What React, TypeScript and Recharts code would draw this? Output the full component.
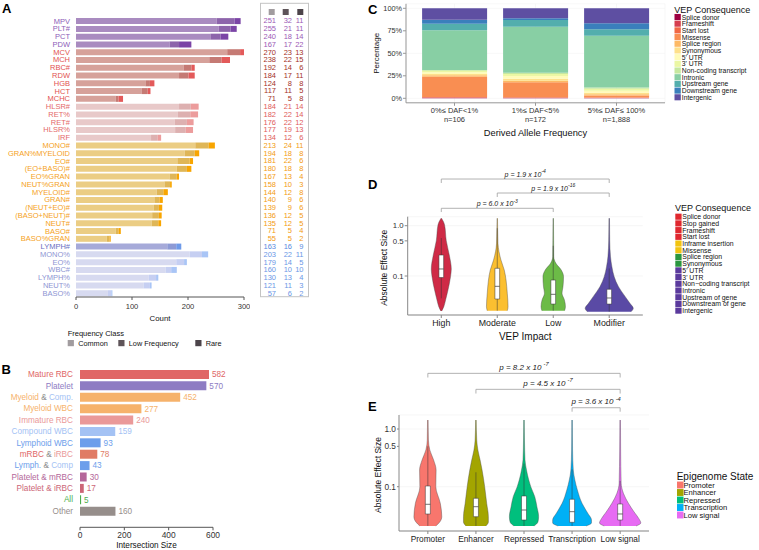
import React from 'react';
import {
  BarChart, Bar, XAxis, YAxis, Cell, LabelList, ComposedChart, Area,
  ReferenceLine, ReferenceArea, CartesianGrid,
} from 'recharts';

const FONT = '"Liberation Sans", Arial, Helvetica, sans-serif';

// ---------------- Panel A data ----------------
const traitNames = ['MPV', 'PLT#', 'PCT', 'PDW', 'MCV', 'MCH', 'RBC#', 'RDW', 'HGB', 'HCT', 'MCHC',
  'HLSR#', 'RET%', 'RET#', 'HLSR%', 'IRF', 'MONO#', 'GRAN%MYELOID', 'EO#', '(EO+BASO)#', 'EO%GRAN',
  'NEUT%GRAN', 'MYELOID#', 'GRAN#', '(NEUT+EO)#', '(BASO+NEUT)#', 'NEUT#', 'BASO#', 'BASO%GRAN',
  'LYMPH#', 'MONO%', 'EO%', 'WBC#', 'LYMPH%', 'NEUT%', 'BASO%'];
const traitGroups = ['plt', 'plt', 'plt', 'plt', 'mrbc', 'mrbc', 'mrbc', 'mrbc', 'mrbc', 'mrbc', 'mrbc',
  'irbc', 'irbc', 'irbc', 'irbc', 'irbc', 'mye', 'mye', 'mye', 'mye', 'mye', 'mye', 'mye', 'mye', 'mye',
  'mye', 'mye', 'mye', 'mye', 'lymph', 'comp', 'comp', 'comp', 'comp', 'comp', 'comp'];
const commonCounts = [251, 255, 240, 167, 270, 238, 192, 184, 124, 117, 71, 184, 182, 176, 177, 134, 213, 194,
  181, 180, 167, 158, 144, 140, 139, 136, 135, 71, 55, 163, 203, 179, 160, 130, 121, 57];
const lowFreqCounts = [32, 21, 18, 17, 23, 22, 14, 17, 8, 11, 5, 21, 22, 22, 19, 12, 24, 18, 22, 18, 13, 10, 12,
  9, 9, 12, 12, 5, 5, 16, 22, 14, 10, 13, 11, 6];
const rareCounts = [11, 11, 14, 22, 13, 15, 6, 11, 8, 5, 8, 14, 14, 12, 13, 6, 11, 8, 6, 8, 4, 3, 8, 6, 6, 5, 5,
  4, 2, 9, 11, 5, 10, 4, 3, 2];
const countTicks = [0, 100, 200, 300];
const frequencyClasses = ['Common', 'Low Frequency', 'Rare'];
const frequencyClassColors = ['#a19c9f', '#5e5459', '#4c444a'];

const groupPalette: Record<string, { common: string; low: string; rare: string; label: string; table: string }> = {
  plt: { common: '#a98bc0', low: '#8d64ab', rare: '#7b44a6', label: '#8d5cb8', table: '#9b59b6' },
  mrbc: { common: '#d6a19a', low: '#c57a74', rare: '#e35a5a', label: '#e2514f', table: '#a3311f' },
  irbc: { common: '#e8c9c9', low: '#ddb0b0', rare: '#ec9c9c', label: '#e46a6a', table: '#e05b5b' },
  mye: { common: '#ebcd84', low: '#dfb657', rare: '#f8a500', label: '#f5a21c', table: '#f39c12' },
  lymph: { common: '#a6aad9', low: '#8d9ad5', rare: '#6e9ae9', label: '#6a6fc2', table: '#5a8ae0' },
  comp: { common: '#d7daf0', low: '#c6cff2', rare: '#a9c5f6', label: '#8e95d3', table: '#6b97e6' },
};

// ---------------- Panel B data ----------------
const intersectionNames = ['Mature RBC', 'Platelet', 'Myeloid & Comp.', 'Myeloid WBC', 'Immature RBC',
  'Compound WBC', 'Lymphoid WBC', 'mRBC & iRBC', 'Lymph. & Comp', 'Platelet & mRBC', 'Platelet & iRBC', 'All', 'Other'];
const intersectionSizes = [582, 570, 452, 277, 240, 159, 93, 78, 43, 30, 17, 5, 160];
const intersectionColors = ['#e06666', '#8e7cc3', '#f6b26b', '#f6b26b', '#ea9999', '#a4c2f4', '#6d9eeb',
  '#e07b65', '#6d9eeb', '#b4679a', '#cc6677', '#4caf50', '#968e8b'];
const intersectionLabelColors: Record<string, string[]> = {
  'Myeloid & Comp.': ['#f6b26b', '#8a8a8a', '#a4c2f4'],
  'mRBC & iRBC': ['#e06666', '#8a8a8a', '#ea9999'],
  'Lymph. & Comp': ['#6d9eeb', '#8a8a8a', '#a4c2f4'],
};
const intersectionTicks = [0, 200, 400, 600];

// ---------------- Panel C data ----------------
const dafBins = ['0%\u2264 DAF<1%', '1%\u2264 DAF<5%', '5%\u2264 DAF\u2264 100%'];
const dafCounts = ['n=106', 'n=172', 'n=1,888'];
const vepConsequences = ['Splice donor', 'Frameshift', 'Start lost', 'Missense', 'Splice region', 'Synonymous',
  "5' UTR", "3' UTR", 'Non-coding transcript', 'Intronic', 'Upstream gene', 'Downstream gene', 'Intergenic'];
const vepConsequenceColors = ['#9e0142', '#d53e4f', '#f16744', '#f98e52', '#fdb965', '#fee08b', '#fffbb9',
  '#ebf7a4', '#c6e89f', '#88cfa4', '#53aead', '#3a7fbc', '#5e4fa2'];
const pctLowDaf = [0.5, 0.5, 0.4, 22.6, 1.5, 1.5, 2, 1.5, 1, 44, 7.4, 4.4, 12.7];
const pctMidDaf = [0.6, 0, 0.6, 16.6, 1.8, 2.2, 3, 2.2, 1.5, 51.1, 7.4, 1.9, 11.1];
const pctHighDaf = [0.3, 0.2, 0.5, 2, 1.4, 1.9, 2.2, 2.2, 1.2, 57.7, 7.1, 6.6, 16.7];
const pctTicks = [0, 25, 50, 75, 100];

// ---------------- Panel D data ----------------
type Pt = [number, number]; // [log10 effect size, violin half width]
const vepImpacts = ['High', 'Moderate', 'Low', 'Modifier'];
const vepImpactColors = ['#cf2a46', '#fbbf30', '#6cbb47', '#5a4aa5'];
const violinHigh: Pt[] = [[-1.696, 0.009], [-1.61, 0.045], [-1.477, 0.077], [-1.278, 0.12], [-1.014, 0.165],
  [-0.861, 0.179], [-0.583, 0.143], [-0.298, 0.089], [0.014, 0.059], [0.147, 0.005]];
const violinModerate: Pt[] = [[-1.69, 0.179], [-1.61, 0.193], [-1.344, 0.179], [-1.08, 0.157], [-0.881, 0.125],
  [-0.682, 0.066], [-0.35, 0.0125], [-0.085, 0.007], [0.147, 0.004]];
const violinLow: Pt[] = [[-1.69, 0.202], [-1.61, 0.218], [-1.477, 0.2], [-1.344, 0.157], [-1.213, 0.174],
  [-1.014, 0.184], [-0.881, 0.143], [-0.748, 0.048], [-0.616, 0.009], [-0.3, 0.007], [0.147, 0.004]];
const violinModifier: Pt[] = [[-1.71, 0.39], [-1.642, 0.43], [-1.543, 0.37], [-1.41, 0.286], [-1.213, 0.166],
  [-1.014, 0.089], [-0.815, 0.048], [-0.616, 0.023], [-0.284, 0.009], [0.147, 0.005]];
const vepViolins = [violinHigh, violinModerate, violinLow, violinModifier];
const vepWhiskerLow = [-1.443, -1.69, -1.69, -1.71];
const vepQ1 = [-1.03, -1.457, -1.557, -1.557];
const vepMedian = [-0.86, -1.205, -1.364, -1.437];
const vepQ3 = [-0.583, -0.847, -1.08, -1.264];
const vepWhiskerHigh = [-0.245, -0.05, -0.4, -0.85];
const vepTests = [
  { from: 1, to: 4, mantissa: '1.9', exponent: '-4' },
  { from: 2, to: 4, mantissa: '1.9', exponent: '-16' },
  { from: 1, to: 3, mantissa: '6.0', exponent: '-3' },
];
const vepLegendItems = ['Splice donor', 'Stop gained', 'Frameshift', 'Start lost', 'Inframe insertion', 'Missense',
  'Splice region', 'Synonymous', "5' UTR", "3' UTR", 'Non\u2212coding transcript', 'Intronic', 'Upstream of gene',
  'Downstream of gene', 'Intergenic'];
const vepLegendImpact = [0, 0, 0, 0, 1, 1, 2, 2, 3, 3, 3, 3, 3, 3, 3];
const vepLegendColors = ['#e0282f', '#f2c40f', '#2a963f', '#5b3a9d'];

// ---------------- Panel E data ----------------
const epiStates = ['Promoter', 'Enhancer', 'Repressed', 'Transcription', 'Low signal'];
const epiColors = ['#F8766D', '#A3A500', '#00BF7D', '#00B0F6', '#E76BF3'];
const violinPromoter: Pt[] = [[-1.681, 0.166], [-1.612, 0.248], [-1.52, 0.29], [-1.288, 0.259], [-1.0, 0.166],
  [-0.711, 0.172], [-0.537, 0.12], [-0.364, 0.041], [-0.191, 0.012], [0.156, 0.006]];
const violinEnhancer: Pt[] = [[-1.681, 0.207], [-1.612, 0.259], [-1.52, 0.259], [-1.288, 0.224], [-1.0, 0.182],
  [-0.711, 0.128], [-0.537, 0.087], [-0.364, 0.041], [-0.191, 0.017], [0.156, 0.006]];
const violinRepressed: Pt[] = [[-1.681, 0.207], [-1.612, 0.29], [-1.52, 0.304], [-1.347, 0.269], [-1.173, 0.224],
  [-1.0, 0.141], [-0.884, 0.099], [-0.711, 0.052], [-0.537, 0.021], [-0.191, 0.01], [0.156, 0.006]];
const violinTranscription: Pt[] = [[-1.681, 0.29], [-1.629, 0.404], [-1.577, 0.404], [-1.461, 0.327],
  [-1.288, 0.207], [-1.057, 0.11], [-0.884, 0.058], [-0.711, 0.025], [-0.364, 0.01], [0.156, 0.006]];
const violinLowSignal: Pt[] = [[-1.681, 0.331], [-1.629, 0.43], [-1.554, 0.389], [-1.438, 0.29], [-1.288, 0.172],
  [-1.115, 0.068], [-0.941, 0.021], [-0.364, 0.01], [0.156, 0.006]];
const epiViolins = [violinPromoter, violinEnhancer, violinRepressed, violinTranscription, violinLowSignal];
const epiWhiskerLow = [-1.68, -1.68, -1.68, -1.68, -1.68];
const epiQ1 = [-1.473, -1.52, -1.577, -1.617, -1.577];
const epiMedian = [-1.305, -1.347, -1.404, -1.433, -1.473];
const epiQ3 = [-0.988, -1.201, -1.161, -1.218, -1.3];
const epiWhiskerHigh = [-0.3, -0.75, -0.6, -0.7, -0.9];
const epiTests = [
  { from: 1, to: 5, mantissa: '8.2', exponent: '-7' },
  { from: 2, to: 5, mantissa: '4.5', exponent: '-7' },
  { from: 4, to: 5, mantissa: '3.6', exponent: '-4' },
];

const effectTicks = [0.1, 0.5, 1.0];
const effectTickLabels = ['0.1', '0.5', '1.0'];

// ---------------- layout constants ----------------
const A_TOP = 17.1;
const A_PLOT_H = 279.9;
const A_BAND = A_PLOT_H / traitNames.length;
// bracket heights (log10 units above the data)
const vepBracketLevels = [[0.928, 0.849], [0.65, 0.571], [0.346, 0.272]];
const epiBracketLevels = [[0.965, 0.893], [0.688, 0.615], [0.369, 0.3]];

// ---------------- helpers ----------------
const fmtEffect = (v: number) => {
  const i = effectTicks.findIndex((t) => Math.abs(Math.log10(t) - v) < 1e-6);
  return i >= 0 ? effectTickLabels[i] : '';
};

function violinRows(pts: Pt[], center: number) {
  return [...pts].sort((a, b) => a[0] - b[0]).map(([y, w]) => ({ y, band: [center - w, center + w] }));
}

const yTitle = (text: string, dx: number, dy: number, fontSize: number) => (props: any) => {
  const vb = props.viewBox || { x: 0, y: 0, width: 0, height: 0 };
  const cx = vb.x + dx;
  const cy = vb.y + vb.height / 2 + dy;
  return (
    <text x={cx} y={cy} transform={`rotate(-90 ${cx} ${cy})`} textAnchor="middle" dominantBaseline="central"
      fontSize={fontSize} fontFamily={FONT} fill="#111">{text}</text>
  );
};

const pLabel = (mantissa: string, exponent: string, fontSize: number, gap: number, spaced: boolean) => (props: any) => {
  const vb = props.viewBox || { x: 0, y: 0, width: 0, height: 0 };
  const cx = vb.x + vb.width / 2;
  return (
    <text x={cx} y={vb.y - gap} textAnchor="middle" fontSize={fontSize} fontFamily={FONT} fontStyle="italic" fill="#222">
      {`p = ${mantissa} x 10${spaced ? ' ' : ''}`}
      <tspan dy={-fontSize * 0.45} fontSize={fontSize * 0.72}>{exponent}</tspan>
    </text>
  );
};

function brackets(tests: { from: number; to: number; mantissa: string; exponent: string }[], levels: number[][],
  fontSize: number, gap: number, spaced: boolean) {
  const out: any[] = [];
  tests.forEach((t, i) => {
    const [lv, dr] = levels[i];
    out.push(<ReferenceLine key={`bh${i}`} ifOverflow="visible" segment={[{ x: t.from, y: lv }, { x: t.to, y: lv }]}
      stroke="#a0a0a0" strokeWidth={0.8} label={{ content: pLabel(t.mantissa, t.exponent, fontSize, gap, spaced) }} />);
    out.push(<ReferenceLine key={`bl${i}`} ifOverflow="visible" segment={[{ x: t.from, y: lv }, { x: t.from, y: dr }]}
      stroke="#a0a0a0" strokeWidth={0.8} />);
    out.push(<ReferenceLine key={`br${i}`} ifOverflow="visible" segment={[{ x: t.to, y: lv }, { x: t.to, y: dr }]}
      stroke="#a0a0a0" strokeWidth={0.8} />);
  });
  return out;
}

function boxes(q1: number[], med: number[], q3: number[], lo: number[], hi: number[], halfW: number) {
  const out: any[] = [];
  q1.forEach((_, i) => {
    const c = i + 1;
    out.push(<ReferenceLine key={`w${i}`} ifOverflow="visible" segment={[{ x: c, y: lo[i] }, { x: c, y: hi[i] }]}
      stroke="#333" strokeWidth={0.5} zIndex={450} />);
  });
  q1.forEach((_, i) => {
    const c = i + 1;
    out.push(<ReferenceArea key={`b${i}`} ifOverflow="visible" x1={c - halfW} x2={c + halfW} y1={q1[i]} y2={q3[i]}
      fill="#ffffff" fillOpacity={1} stroke="#333" strokeWidth={0.5} zIndex={460} />);
  });
  q1.forEach((_, i) => {
    const c = i + 1;
    out.push(<ReferenceLine key={`m${i}`} ifOverflow="visible" segment={[{ x: c - halfW, y: med[i] }, { x: c + halfW, y: med[i] }]}
      stroke="#333" strokeWidth={0.7} zIndex={470} />);
  });
  return out;
}

// ---------------- Panel A ----------------
const rowsA = traitNames.map((name, i) => ({
  name, common: commonCounts[i], low: lowFreqCounts[i], rare: rareCounts[i], group: traitGroups[i],
}));

function TraitTick(props: any) {
  const { x, y, payload } = props;
  const i = traitNames.indexOf(payload.value);
  return (
    <text x={x} y={y} dy="0.35em" textAnchor="end" fontSize={7.5} fontFamily={FONT}
      fill={groupPalette[traitGroups[i]].label}>{payload.value}</text>
  );
}

function PanelA() {
  return (
    <BarChart layout="vertical" width={250} height={330} data={rowsA}
      margin={{ top: A_TOP, right: 6, bottom: 0, left: 0 }} barCategoryGap="13%">
      <XAxis type="number" domain={[0, 300]} ticks={countTicks} allowDataOverflow height={33}
        tickSize={3} tickMargin={4} axisLine={{ stroke: '#555' }} tickLine={{ stroke: '#555' }}
        tick={{ fontSize: 7.6, fill: '#333', fontFamily: FONT }}
        label={{ value: 'Count', position: 'insideBottom', offset: 9, fontSize: 7.8, fill: '#111', fontFamily: FONT }} />
      <YAxis type="category" dataKey="name" width={76} tickLine={false} axisLine={false} tickSize={4} tickMargin={2}
        interval={0} tick={<TraitTick />} />
      <Bar dataKey="common" stackId="a" isAnimationActive={false}>
        {rowsA.map((r, i) => <Cell key={i} fill={groupPalette[r.group].common} />)}
      </Bar>
      <Bar dataKey="low" stackId="a" isAnimationActive={false}>
        {rowsA.map((r, i) => <Cell key={i} fill={groupPalette[r.group].low} />)}
      </Bar>
      <Bar dataKey="rare" stackId="a" isAnimationActive={false}>
        {rowsA.map((r, i) => <Cell key={i} fill={groupPalette[r.group].rare} />)}
      </Bar>
    </BarChart>
  );
}

// ---------------- Panel B ----------------
const rowsB = intersectionNames.map((name, i) => ({ name, size: intersectionSizes[i] }));

function IntersectionTick(props: any) {
  const { x, y, payload } = props;
  const name: string = payload.value;
  const i = intersectionNames.indexOf(name);
  const parts = intersectionLabelColors[name];
  if (parts) {
    const [a, b] = name.split(' & ');
    return (
      <text x={x} y={y} dy="0.35em" textAnchor="end" fontSize={8.2} fontFamily={FONT}>
        <tspan fill={parts[0]}>{a}</tspan>
        <tspan fill={parts[1]}>{' & '}</tspan>
        <tspan fill={parts[2]}>{b}</tspan>
      </text>
    );
  }
  return (
    <text x={x} y={y} dy="0.35em" textAnchor="end" fontSize={8.2} fontFamily={FONT}
      fill={intersectionColors[i]}>{name}</text>
  );
}

function SizeLabel(props: any) {
  const vb = props.viewBox || props;
  const x = (vb.x ?? props.x) + (vb.width ?? props.width);
  const y = (vb.y ?? props.y) + (vb.height ?? props.height) / 2;
  let i = props.index;
  if (i == null) i = intersectionSizes.indexOf(Number(props.value));
  return (
    <text x={x + 3} y={y} dy="0.35em" fontSize={8.2} fontFamily={FONT} fill={intersectionColors[i]}>{props.value}</text>
  );
}

function PanelB() {
  return (
    <BarChart layout="vertical" width={240} height={200} data={rowsB}
      margin={{ top: 18.6, right: 27, bottom: 0, left: 0 }} barCategoryGap="12%">
      <XAxis type="number" domain={[0, 600]} ticks={intersectionTicks} allowDataOverflow height={22.7}
        tickSize={3} tickMargin={2} axisLine={{ stroke: '#555' }} tickLine={{ stroke: '#555' }}
        tick={{ fontSize: 8.4, fill: '#333', fontFamily: FONT }}
        label={{ value: 'Intersection Size', position: 'insideBottom', offset: 2.2, fontSize: 8.2, fill: '#111', fontFamily: FONT }} />
      <YAxis type="category" dataKey="name" width={80} tickLine={false} axisLine={false} tickSize={4} tickMargin={3}
        interval={0} padding={{ top: 0, bottom: 10.6 }} tick={<IntersectionTick />} />
      <Bar dataKey="size" isAnimationActive={false}>
        {rowsB.map((r, i) => <Cell key={i} fill={intersectionColors[i]} />)}
        <LabelList dataKey="size" content={<SizeLabel />} />
      </Bar>
    </BarChart>
  );
}

// ---------------- Panel C ----------------
const rowsC = dafBins.map((bin, b) => {
  const src = [pctLowDaf, pctMidDaf, pctHighDaf][b];
  const row: Record<string, any> = { bin };
  vepConsequences.forEach((_, k) => { row[`k${k}`] = src[k]; });
  return row;
});

function DafTick(props: any) {
  const { x, y, payload } = props;
  const i = dafBins.indexOf(payload.value);
  return (
    <g>
      <text x={x} y={y} dy="0.71em" textAnchor="middle" fontSize={7.5} fontFamily={FONT} fill="#333">{payload.value}</text>
      <text x={x} y={y + 9.5} dy="0.71em" textAnchor="middle" fontSize={7.5} fontFamily={FONT} fill="#333">{dafCounts[i]}</text>
    </g>
  );
}

function PanelC() {
  return (
    <BarChart width={300} height={140} data={rowsC} margin={{ top: 3.8, right: 5, bottom: 0, left: 0 }}
      barCategoryGap="10%">
      <CartesianGrid stroke="#f1f1f1" strokeWidth={0.6} />
      <XAxis type="category" dataKey="bin" height={37.2} padding={{ left: 8, right: 8 }} tickSize={3} tickMargin={1.5}
        axisLine={{ stroke: '#999' }} tickLine={{ stroke: '#999' }} tick={<DafTick />} interval={0}
        label={{ value: 'Derived Allele Frequency', position: 'insideBottom', offset: 3.7, fontSize: 9.3, fill: '#111', fontFamily: FONT }} />
      <YAxis type="number" domain={[-5, 105]} allowDataOverflow ticks={pctTicks} tickFormatter={(v: number) => `${v}%`}
        width={36} tickSize={3} tickMargin={1} axisLine={{ stroke: '#999' }} tickLine={{ stroke: '#999' }}
        tick={{ fontSize: 7.3, fill: '#333', fontFamily: FONT }}
        label={{ content: yTitle('Percentage', 7, 0, 8) }} />
      {vepConsequences.map((c, k) => (
        <Bar key={c} dataKey={`k${k}`} stackId="v" fill={vepConsequenceColors[k]} isAnimationActive={false} />
      ))}
    </BarChart>
  );
}

// ---------------- Panel D ----------------
function PanelD() {
  return (
    <ComposedChart layout="vertical" width={300} height={190} margin={{ top: 56.7, right: 32.2, bottom: 0, left: 0 }}>
      <CartesianGrid vertical={false} stroke="#f0f0f0" strokeWidth={0.6} />
      <XAxis type="number" domain={[0.4, 4.6]} allowDataOverflow ticks={[1, 2, 3, 4]} height={35}
        tickFormatter={(v: number) => vepImpacts[Math.round(v) - 1]} tickSize={3} tickMargin={1.5}
        axisLine={{ stroke: '#888' }} tickLine={{ stroke: '#888' }}
        tick={{ fontSize: 8.8, fill: '#222', fontFamily: FONT }}
        label={{ value: 'VEP Impact', position: 'insideBottom', offset: 9.7, fontSize: 10, fill: '#111', fontFamily: FONT }} />
      <YAxis type="number" dataKey="y" reversed domain={[-1.775, 0.179]} allowDataOverflow
        ticks={effectTicks.map((t) => Math.log10(t))} tickFormatter={fmtEffect} width={32.7} tickSize={3} tickMargin={1}
        axisLine={{ stroke: '#888' }} tickLine={{ stroke: '#888' }}
        tick={{ fontSize: 7.8, fill: '#333', fontFamily: FONT }}
        label={{ content: yTitle('Absolute Effect Size', 9, 2, 8.5) }} />
      {vepViolins.map((pts, i) => (
        <Area key={vepImpacts[i]} data={violinRows(pts, i + 1)} dataKey="band" type="monotone"
          fill={vepImpactColors[i]} fillOpacity={1} stroke="#4a4a4a" strokeWidth={0.4}
          isAnimationActive={false} dot={false} activeDot={false} />
      ))}
      {boxes(vepQ1, vepMedian, vepQ3, vepWhiskerLow, vepWhiskerHigh, 0.042)}
      {brackets(vepTests, vepBracketLevels, 7, 2.5, false)}
    </ComposedChart>
  );
}

// ---------------- Panel E ----------------
function PanelE() {
  return (
    <ComposedChart layout="vertical" width={305} height={190} margin={{ top: 55, right: 26, bottom: 0, left: 0 }}>
      <CartesianGrid vertical={false} stroke="#f0f0f0" strokeWidth={0.6} />
      <XAxis type="number" domain={[0.4, 5.6]} allowDataOverflow ticks={[1, 2, 3, 4, 5]} height={19}
        tickFormatter={(v: number) => epiStates[Math.round(v) - 1]} tickSize={3} tickMargin={2}
        axisLine={{ stroke: '#888' }} tickLine={{ stroke: '#888' }}
        tick={{ fontSize: 8.3, fill: '#222', fontFamily: FONT }} />
      <YAxis type="number" dataKey="y" reversed domain={[-1.768, 0.243]} allowDataOverflow
        ticks={effectTicks.map((t) => Math.log10(t))} tickFormatter={fmtEffect} width={29} tickSize={2} tickMargin={1}
        axisLine={{ stroke: '#888' }} tickLine={{ stroke: '#888' }}
        tick={{ fontSize: 8.3, fill: '#333', fontFamily: FONT }}
        label={{ content: yTitle('Absolute Effect Size', 8, 2, 8.5) }} />
      {epiViolins.map((pts, i) => (
        <Area key={epiStates[i]} data={violinRows(pts, i + 1)} dataKey="band" type="monotone"
          fill={epiColors[i]} fillOpacity={1} stroke="#4a4a4a" strokeWidth={0.4}
          isAnimationActive={false} dot={false} activeDot={false} />
      ))}
      {boxes(epiQ1, epiMedian, epiQ3, epiWhiskerLow, epiWhiskerHigh, 0.052)}
      {brackets(epiTests, epiBracketLevels, 8, 3.5, true)}
    </ComposedChart>
  );
}

// ---------------- overlays (legends, table, panel letters) ----------------
function LegendBlock(props: { title: string; titleX: number; titleY: number; titleSize: number; items: string[];
  colors: string[]; x0: number; y0: number; step: number; box: number; textX: number; fontSize: number }) {
  const { title, titleX, titleY, titleSize, items, colors, x0, y0, step, box, textX, fontSize } = props;
  return (
    <g fontFamily={FONT}>
      <text x={titleX} y={titleY} dominantBaseline="central" fontSize={titleSize} fill="#111">{title}</text>
      {items.map((it, i) => (
        <g key={it + i}>
          <rect x={x0} y={y0 + step * i - step / 2 + 0.3} width={box} height={step - 0.6} fill={colors[i]} />
          <text x={textX} y={y0 + step * i} dominantBaseline="central" fontSize={fontSize} fill="#111">{it}</text>
        </g>
      ))}
    </g>
  );
}

function Overlay() {
  const colX = [276, 292, 303.5];
  const headX = [271.7, 285.7, 300.3];
  return (
    <svg width={759} height={550} style={{ position: 'absolute', left: 0, top: 0, pointerEvents: 'none' }}>
      {/* panel letters */}
      <g fontFamily={FONT} fontWeight="bold" fontSize={13} fill="#000">
        <text x={2} y={13.3}>A</text>
        <text x={1.5} y={374.3}>B</text>
        <text x={368} y={14}>C</text>
        <text x={368} y={189}>D</text>
        <text x={368} y={411}>E</text>
      </g>
      {/* table of counts */}
      <rect x={260.5} y={3.3} width={48} height={293.4} fill="none" stroke="#c4c4c4" strokeWidth={1} />
      {frequencyClassColors.map((c, j) => (
        <rect key={c} x={headX[j] - 3} y={9} width={6} height={6} fill={c} />
      ))}
      <g fontFamily={FONT} fontSize={7.5} textAnchor="end">
        {traitNames.map((n, i) => {
          const y = A_TOP + A_BAND * (i + 0.5);
          const col = groupPalette[traitGroups[i]].table;
          return (
            <g key={n} fill={col}>
              <text x={colX[0]} y={y} dominantBaseline="central">{commonCounts[i]}</text>
              <text x={colX[1]} y={y} dominantBaseline="central">{lowFreqCounts[i]}</text>
              <text x={colX[2]} y={y} dominantBaseline="central">{rareCounts[i]}</text>
            </g>
          );
        })}
      </g>
      {/* frequency class legend */}
      <g fontFamily={FONT}>
        <text x={67.7} y={333.3} dominantBaseline="central" fontSize={7.5} fill="#111">Frequency Class</text>
        {frequencyClasses.map((f, j) => {
          const sx = [67.7, 118.3, 195.3][j];
          return (
            <g key={f}>
              <rect x={sx} y={340} width={6.2} height={6.2} fill={frequencyClassColors[j]} />
              <text x={sx + 10.5} y={343.1} dominantBaseline="central" fontSize={7.3} fill="#111">{f}</text>
            </g>
          );
        })}
      </g>
      {/* legend C */}
      <LegendBlock title="VEP Consequence" titleX={674.3} titleY={9.8} titleSize={9} items={vepConsequences}
        colors={vepConsequenceColors} x0={674.5} y0={17} step={6.69} box={6.3} textX={681.8} fontSize={6.8} />
      {/* legend D */}
      <LegendBlock title="VEP Consequence" titleX={675} titleY={207.7} titleSize={9} items={vepLegendItems}
        colors={vepLegendImpact.map((k) => vepLegendColors[k])} x0={675.3} y0={216.7} step={6.71} box={6.3}
        textX={682.3} fontSize={6.9} />
      {/* legend E */}
      <LegendBlock title="Epigenome State" titleX={676.7} titleY={476.5} titleSize={10} items={epiStates}
        colors={epiColors} x0={677} y0={485} step={7.5} box={6.5} textX={683.5} fontSize={7.6} />
    </svg>
  );
}

export default function App() {
  return (
    <div style={{ position: 'absolute', left: 0, top: 0, width: 759, height: 550, background: '#fff', overflow: 'hidden', fontFamily: FONT }}>
      <div style={{ position: 'absolute', left: 0, top: 0 }}><PanelA /></div>
      <div style={{ position: 'absolute', left: 0, top: 350 }}><PanelB /></div>
      <div style={{ position: 'absolute', left: 370, top: 0 }}><PanelC /></div>
      <div style={{ position: 'absolute', left: 375, top: 160 }}><PanelD /></div>
      <div style={{ position: 'absolute', left: 370, top: 360 }}><PanelE /></div>
      <Overlay />
    </div>
  );
}
